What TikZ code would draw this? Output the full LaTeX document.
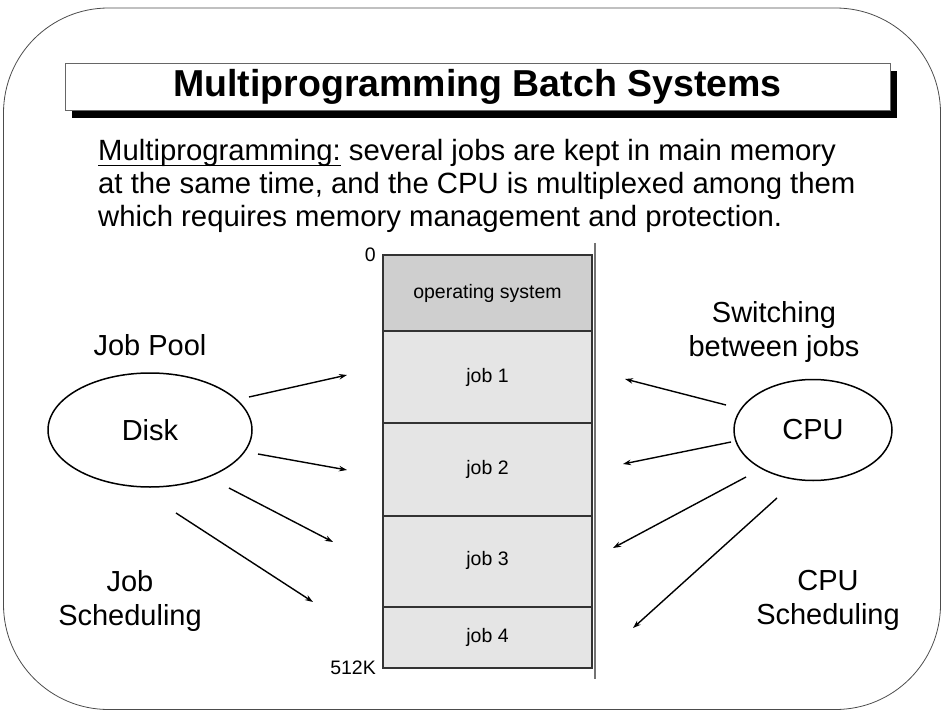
\documentclass[tikz,border=0pt]{standalone}
\usepackage{fontspec}
\setmainfont{Liberation Sans}
\usetikzlibrary{arrows.meta,shapes.geometric}
\newcommand\myuline[1]{\setbox0\hbox{#1}\rlap{\rule[-5.5pt]{\wd0}{1.3pt}}\box0\relax}
\begin{document}
\begin{tikzpicture}[x=1pt,y=-1pt,
  lbl/.style={font=\fontsize{29}{34}\selectfont, align=center, inner sep=0pt},
  body/.style={font=\fontsize{29.3}{33}\selectfont, anchor=base west, inner sep=0pt},
  memtxt/.style={font=\fontsize{19.5}{22}\selectfont},
  seg/.style={draw=black!80, line width=1.2pt, fill=black!10, minimum width=209pt, inner sep=0pt},
  oval/.style={ellipse, draw, line width=1.5pt, inner sep=0pt, font=\fontsize{29}{34}\selectfont},
  arr/.style={line width=1.4pt, -{Stealth[length=8pt,width=5.5pt]}}]
\useasboundingbox (0,0) rectangle (944,711);
% frame
\draw[black!70, line width=0.8pt, rounded corners=105pt] (3.5,8) rectangle (940.5,709.5);
% title
\fill[black] (72,71) rectangle (897,118);
\node[draw=black!60, fill=white, line width=0.8pt, minimum width=825pt, minimum height=47pt, inner sep=0pt,
  font=\fontsize{37.5}{40}\selectfont\bfseries] (title) at (477.5,86.5) {Multiprogramming Batch Systems};
% body text
\node[body] (l1) at (98,161) {\myuline{Multiprogramming:} several jobs are kept in main memory};
\node[body] (l2) at (98,194) {at the same time, and the CPU is multiplexed among them};
\node[body] (l3) at (98,227) {which requires memory management and protection.};
% memory
\node[seg, fill=black!19, minimum height=76pt] (os) at (487.5,293) {};
\node[seg, minimum height=92pt] (j1) at (487.5,377) {};
\node[seg, minimum height=93pt] (j2) at (487.5,469.5) {};
\node[seg, minimum height=91pt] (j3) at (487.5,561.5) {};
\node[seg, minimum height=61pt] (j4) at (487.5,637.5) {};
\node[memtxt] (ost) at (487.5,293) {operating system};
\node[memtxt] (j1t) at (487.5,377) {job 1};
\node[memtxt] (j2t) at (487.5,469) {job 2};
\node[memtxt] (j3t) at (487.5,560) {job 3};
\node[memtxt] (j4t) at (487.5,637) {job 4};
\coordinate (vtop) at (595,243);
\coordinate (vbot) at (595,679);
\draw[black!55, line width=1.5pt] (vtop) -- (vbot);
\node[memtxt, anchor=east, inner sep=0pt] (zero) at (376,255) {0};
\node[memtxt, anchor=east, inner sep=0pt] (k512) at (376,668) {512K};
% disk side
\node[oval, minimum width=204pt, minimum height=114pt] (disk) at (150,430) {Disk};
\node[lbl] (pool) at (150,345) {Job Pool};
\node[lbl] (jsched) at (130,601) {Job\\Scheduling};
\coordinate (d1s) at (249,397); \coordinate (d1e) at (347,375);
\coordinate (d2s) at (258,454); \coordinate (d2e) at (347,470);
\coordinate (d3s) at (229,488); \coordinate (d3e) at (333,542);
\coordinate (d4s) at (176,513); \coordinate (d4e) at (313,602);
\draw[arr] (d1s) -- (d1e);
\draw[arr] (d2s) -- (d2e);
\draw[arr] (d3s) -- (d3e);
\draw[arr] (d4s) -- (d4e);
% cpu side
\node[oval, minimum width=158pt, minimum height=101pt] (cpu) at (813,430) {CPU};
\node[lbl] (switch) at (774,332) {Switching\\between jobs};
\node[lbl] (csched) at (828,600) {CPU\\Scheduling};
\coordinate (c1s) at (726,405); \coordinate (c1e) at (625,379);
\coordinate (c2s) at (731,442); \coordinate (c2e) at (623,464);
\coordinate (c3s) at (746,477); \coordinate (c3e) at (613,548);
\coordinate (c4s) at (777,498); \coordinate (c4e) at (633,628);
\draw[arr] (c1s) -- (c1e);
\draw[arr] (c2s) -- (c2e);
\draw[arr] (c3s) -- (c3e);
\draw[arr] (c4s) -- (c4e);
\end{tikzpicture}
\end{document}
